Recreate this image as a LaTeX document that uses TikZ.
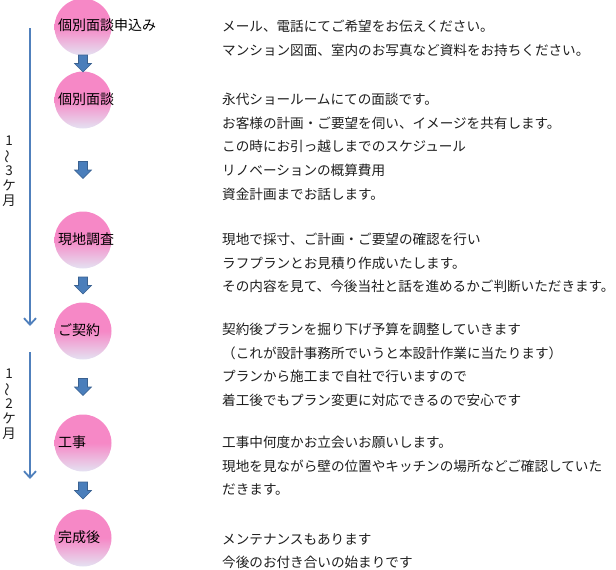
\documentclass[tikz,border=0pt]{standalone}
\usepackage{fontspec}
\newfontfamily\jpfont{Noto Sans CJK JP}
\usepackage{tikz}
\usetikzlibrary{calc,arrows.meta}

\definecolor{stepPink}{HTML}{F688C6}
\definecolor{stepLav}{HTML}{E4E2F2}
\definecolor{arrowBlue}{HTML}{4A7EBB}
\definecolor{arrowEdge}{HTML}{3A6190}
\definecolor{lineBlue}{HTML}{5080BC}
\definecolor{textGray}{HTML}{1E1E1E}

\newcommand{\fixedlines}{\setlength{\lineskiplimit}{-20pt}}

\tikzset{
  downarrow/.pic={
    \draw[arrowEdge, fill=arrowBlue, line width=0.6pt]
      (-4.5,-8.5) -- (4.5,-8.5) -- (4.5,0) -- (8.5,0) -- (0,8.5) -- (-8.5,0) -- (-4.5,0) -- cycle;
  }
}

\begin{document}
\begin{tikzpicture}[x=1pt, y=-1pt,
    stepball/.style={circle, minimum size=57pt, inner sep=0pt,
      top color=stepPink, bottom color=stepLav, middle color=stepPink},
    steplabel/.style={anchor=west, inner sep=0pt, text=black,
      font=\jpfont\fontsize{14}{16}\selectfont},
    notes/.style={anchor=north west, inner sep=0pt, align=left, text=textGray,
      font=\jpfont\fontsize{13.6}{23.6}\selectfont},
    span/.style={inner sep=0pt, align=center, text=textGray,
      font=\jpfont\fontsize{13.5}{15}\selectfont\fixedlines},
    timeline/.style={lineBlue, line width=2.2pt,
      -{Straight Barb[length=6.5pt, width=12pt, line width=1.8pt]}}]
  \useasboundingbox (0,0) rectangle (616,570);

  % Steps
  \node[stepball] (s1) at (83,27) {};
  \node[stepball] (s2) at (83,100) {};
  \node[stepball] (s3) at (83,240) {};
  \node[stepball] (s4) at (83,331) {};
  \node[stepball] (s5) at (83,443) {};
  \node[stepball] (s6) at (83,538) {};

  \node[steplabel] (l1) at (58,25) {個別面談申込み};
  \node[steplabel] (l2) at (58,99) {個別面談};
  \node[steplabel] (l3) at (58,239) {現地調査};
  \node[steplabel] (l4) at (58,330) {ご契約};
  \node[steplabel] (l5) at (58,442) {工事};
  \node[steplabel] (l6) at (58,537) {完成後};

  % Arrows between steps
  \pic at ($(s1.south)!0.5!(s2.north)$) {downarrow};
  \pic at ($(s2.south)!0.5!(s3.north)$) {downarrow};
  \pic at ($(s3.south)!0.5!(s4.north)$) {downarrow};
  \pic at ($(s4.south)!0.5!(s5.north)$) {downarrow};
  \pic at ($(s5.south)!0.5!(s6.north)$) {downarrow};

  % Descriptions
  \node[notes] (d1) at (222,20) {メール、電話にてご希望をお伝えください。\\
    マンション図面、室内のお写真など資料をお持ちください。};
  \node[notes] (d2) at (222,93) {永代ショールームにての面談です。\\
    お客様の計画・ご要望を伺い、イメージを共有します。\\
    この時にお引っ越しまでのスケジュール\\
    リノベーションの概算費用\\
    資金計画までお話します。};
  \node[notes] (d3) at (222,233) {現地で採寸、ご計画・ご要望の確認を行い\\
    ラフプランとお見積り作成いたします。\\
    その内容を見て、今後当社と話を進めるかご判断いただきます。};
  \node[notes] (d4) at (222,323) {契約後プランを掘り下げ予算を調整していきます\\
    （これが設計事務所でいうと本設計作業に当たります）\\
    プランから施工まで自社で行いますので\\
    着工後でもプラン変更に対応できるので安心です};
  \node[notes] (d5) at (222,436) {工事中何度かお立会いお願いします。\\
    現地を見ながら壁の位置やキッチンの場所などご確認していた\\
    だきます。};
  \node[notes] (d6) at (222,533) {メンテナンスもあります\\
    今後のお付き合いの始まりです};

  % Time spans
  \coordinate (p1) at (30,28);
  \coordinate (q1) at (30,326);
  \coordinate (p2) at (30,352);
  \coordinate (q2) at (30,479);
  \draw[timeline] (p1) -- (q1);
  \draw[timeline] (p2) -- (q2);

  \node[span] (m1) at (9,171) {1\\\rotatebox[origin=c]{90}{～}\\3\\ケ\\月};
  \node[span] (m2) at (9,404) {1\\\rotatebox[origin=c]{90}{～}\\2\\ケ\\月};
\end{tikzpicture}
\end{document}
